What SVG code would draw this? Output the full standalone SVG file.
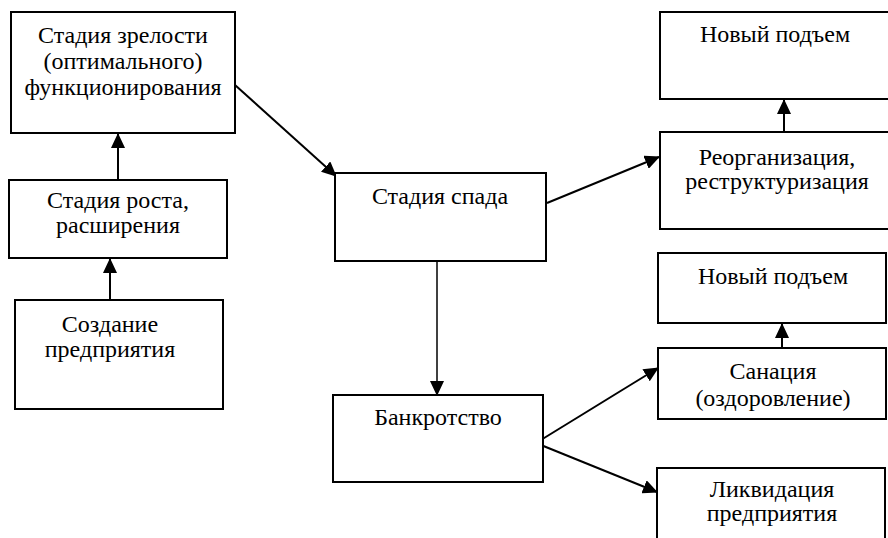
<svg xmlns="http://www.w3.org/2000/svg" width="888" height="538" viewBox="0 0 888 538">
<style>
.box{fill:#fff;stroke:#000;stroke-width:2}
.t{font-family:'Liberation Serif','DejaVu Serif',serif;font-size:24px;fill:#000;text-anchor:middle}
.c{stroke:#000;stroke-width:2;fill:none;marker-end:url(#ah)}
.thin{stroke-width:1.5}
</style>
<defs>
<marker id="ah" markerUnits="userSpaceOnUse" markerWidth="15" markerHeight="14" refX="14" refY="7" orient="auto">
<path d="M0,0 L15,7 L0,14 z" fill="#000"/>
</marker>
</defs>
<rect width="888" height="538" fill="#fff"/>
<g id="connectors">
<line class="c" x1="110" y1="300" x2="110" y2="259"/>
<line class="c" x1="118" y1="180" x2="118" y2="134"/>
<line class="c" x1="235" y1="85" x2="336" y2="176"/>
<line class="c thin" x1="437" y1="252" x2="437" y2="395"/>
<line class="c" x1="547" y1="203" x2="659" y2="157"/>
<line class="c" x1="784" y1="132" x2="784" y2="100"/>
<line class="c" x1="536" y1="443" x2="658" y2="368"/>
<line class="c" x1="536" y1="443" x2="657" y2="492"/>
<line class="c" x1="782" y1="348" x2="782" y2="324"/>
</g>
<g id="n-maturity">
<rect class="box" x="11" y="12" width="224" height="121"/>
<text class="t" x="123" y="43">Стадия зрелости</text>
<text class="t" x="123" y="69">(оптимального)</text>
<text class="t" x="123" y="95">функционирования</text>
</g>
<g id="n-growth">
<rect class="box" x="9" y="180" width="218" height="78"/>
<text class="t" x="118" y="208">Стадия роста,</text>
<text class="t" x="118" y="233">расширения</text>
</g>
<g id="n-creation">
<rect class="box" x="15" y="300" width="208" height="109"/>
<text class="t" x="110" y="332">Создание</text>
<text class="t" x="110" y="357">предприятия</text>
</g>
<g id="n-decline">
<rect class="box" x="335" y="173" width="211" height="88"/>
<text class="t" x="440" y="204">Стадия спада</text>
</g>
<g id="n-bankruptcy">
<rect class="box" x="333" y="395" width="210" height="87"/>
<text class="t" x="438" y="425">Банкротство</text>
</g>
<g id="n-rise1">
<rect class="box" x="660" y="12" width="240" height="87"/>
<text class="t" x="775" y="42">Новый подъем</text>
</g>
<g id="n-reorg">
<rect class="box" x="660" y="132" width="240" height="97"/>
<text class="t" x="777" y="165">Реорганизация,</text>
<text class="t" x="777" y="189">реструктуризация</text>
</g>
<g id="n-rise2">
<rect class="box" x="658" y="253" width="228" height="70"/>
<text class="t" x="773" y="284">Новый подъем</text>
</g>
<g id="n-sanation">
<rect class="box" x="658" y="348" width="228" height="71"/>
<text class="t" x="773" y="379">Санация</text>
<text class="t" x="773" y="406">(оздоровление)</text>
</g>
<g id="n-liquidation">
<rect class="box" x="657" y="468" width="228" height="80"/>
<text class="t" x="772" y="497">Ликвидация</text>
<text class="t" x="772" y="521">предприятия</text>
</g>
</svg>
